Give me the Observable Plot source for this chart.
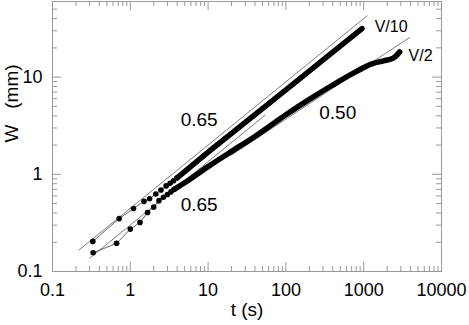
<!DOCTYPE html>
<html><head><meta charset="utf-8">
<script src="https://cdn.jsdelivr.net/npm/d3@7"></script>
<script src="https://cdn.jsdelivr.net/npm/@observablehq/plot@0.6"></script>
<style>body{margin:0;background:#fff}</style>
</head><body><div id="chart"></div>
<script>
// ---- data ----
// early discrete points (t in s, W in mm)
const upperDotT = [0.33, 0.72, 1.1, 1.5, 1.77, 2.13, 2.48, 2.89, 3.25, 3.6, 4.0];
const upperDotW = [0.204, 0.35, 0.445, 0.527, 0.56, 0.627, 0.69, 0.76, 0.81, 0.86, 0.92];
const lowerDotT = [0.333, 0.667, 1.0, 1.333, 1.667, 2.0, 2.333, 2.667, 3.0, 3.333, 3.667];
const lowerDotW = [0.156, 0.195, 0.273, 0.32, 0.405, 0.46, 0.536, 0.58, 0.62, 0.66, 0.70];
// dense (overlapping) part of each series
const upperBandT = [4.0, 10, 100, 950];
const upperBandW = [0.92, 1.69, 7.4, 31.6];
const lowerBandT = [3.667, 5, 10, 20, 40, 100, 200, 400, 800, 1300, 1800, 2400, 2900];
const lowerBandW = [0.70, 0.82, 1.2, 1.72, 2.45, 4.1, 5.9, 8.3, 11.4, 13.8, 14.7, 15.7, 18.2];
// power-law guide lines
const fitUpperT = [0.22, 1100], fitUpperW = [0.167, 42.6];      // slope 0.65
const fitLowerT = [0.30, 54],   fitLowerW = [0.137, 4.06];      // slope 0.65
const fitLateT  = [20, 3900],   fitLateW  = [1.58, 25.6];       // slope 0.50
// annotations
const noteText = ["0.65", "0.65", "0.50"];
const noteT = [7.67, 7.67, 464];
const noteW = [3.65, 0.479, 4.25];
const seriesText = ["V/10", "V/2"];
const seriesT = [2253, 5380];
const seriesW = [32.8, 16.5];
// axes
const xMajor = [0.1, 1, 10, 100, 1000, 10000];
const yMajor = [0.1, 1, 10];
const xDecades = [0.1, 1, 10, 100, 1000];
const yDecades = [0.1, 1, 10];
const mult = [2, 3, 4, 5, 6, 7, 8, 9];
const xMinor = xDecades.flatMap(d => mult.map(m => d * m));
const yMinor = yDecades.flatMap(d => mult.map(m => d * m)).filter(v => v < 60);
const xLabel = "t (s)";
const yLabel = "W\u00a0\u00a0\u00a0(mm)";

// ---- tables ----
const zip = (T, Wv) => T.map((t, i) => ({t, w: Wv[i]}));
const upperDots = zip(upperDotT, upperDotW);
const lowerDots = zip(lowerDotT, lowerDotW);
const upperBand = zip(upperBandT, upperBandW);
const lowerBand = zip(lowerBandT, lowerBandW);
const notes = noteText.map((s, i) => ({s, t: noteT[i], w: noteW[i]}));
const series = seriesText.map((s, i) => ({s, t: seriesT[i], w: seriesW[i]}));

// ---- layout ----
const width = 469, height = 325, mL = 52, mR = 28, mT = 1, mB = 54;
const fw = width - mL - mR, fh = height - mT - mB;
const gray = "#999";
const majLen = 9, minLen = 5;
const fmt = d => String(d);
const font = "'Liberation Sans', Arial, Helvetica, sans-serif";

const chart = Plot.plot({
  width, height, marginLeft: mL, marginRight: mR, marginTop: mT, marginBottom: mB,
  x: {type: "log", domain: [0.1, 10000]},
  y: {type: "log", domain: [0.1, 60]},
  style: {fontFamily: font, background: "#fff", color: "#000", overflow: "visible"},
  marks: [
    Plot.frame({stroke: gray}),
    Plot.ruleX(xMajor, {stroke: gray, insetTop: fh - majLen}),
    Plot.ruleX(xMajor, {stroke: gray, insetBottom: fh - majLen}),
    Plot.ruleX(xMinor, {stroke: gray, insetTop: fh - minLen}),
    Plot.ruleX(xMinor, {stroke: gray, insetBottom: fh - minLen}),
    Plot.ruleY(yMajor, {stroke: gray, insetRight: fw - majLen}),
    Plot.ruleY(yMajor, {stroke: gray, insetLeft: fw - majLen}),
    Plot.ruleY(yMinor, {stroke: gray, insetRight: fw - minLen}),
    Plot.ruleY(yMinor, {stroke: gray, insetLeft: fw - minLen}),
    Plot.axisX(xMajor, {anchor: "bottom", tickSize: 0, tickPadding: 12, tickFormat: fmt, fontSize: 18, label: null}),
    Plot.axisY(yMajor, {anchor: "left", tickSize: 0, tickPadding: 10, tickFormat: fmt, fontSize: 18, label: null}),
    Plot.text([xLabel], {frameAnchor: "bottom", dy: 38, fontSize: 19, lineAnchor: "middle"}),
    Plot.text([yLabel], {frameAnchor: "left", dx: -41, dy: 6, rotate: -90, fontSize: 19, lineAnchor: "middle"}),
    // guide lines
    Plot.line(zip(fitUpperT, fitUpperW), {x: "t", y: "w", stroke: "#444", strokeWidth: 0.7}),
    Plot.line(zip(fitLowerT, fitLowerW), {x: "t", y: "w", stroke: "#444", strokeWidth: 0.7}),
    Plot.line(zip(fitLateT, fitLateW), {x: "t", y: "w", stroke: "#444", strokeWidth: 0.7}),
    // thin connecting lines through the early points
    Plot.line(upperDots, {x: "t", y: "w", stroke: "#222", strokeWidth: 0.7}),
    Plot.line(lowerDots, {x: "t", y: "w", stroke: "#222", strokeWidth: 0.7}),
    // dense bands
    Plot.line(upperBand, {x: "t", y: "w", stroke: "#000", strokeWidth: 5.5, strokeLinecap: "round", strokeLinejoin: "round"}),
    Plot.line(lowerBand, {x: "t", y: "w", stroke: "#000", strokeWidth: 5.5, strokeLinecap: "round", strokeLinejoin: "round", curve: "monotone-x"}),
    // discrete points
    Plot.dot(upperDots, {x: "t", y: "w", r: 2.8, fill: "#000"}),
    Plot.dot(lowerDots, {x: "t", y: "w", r: 2.8, fill: "#000"}),
    // annotations
    Plot.text(notes, {x: "t", y: "w", text: "s", fontSize: 19}),
    Plot.text(series, {x: "t", y: "w", text: "s", fontSize: 16})
  ]
});
document.getElementById("chart").appendChild(chart);
</script>
</body></html>
